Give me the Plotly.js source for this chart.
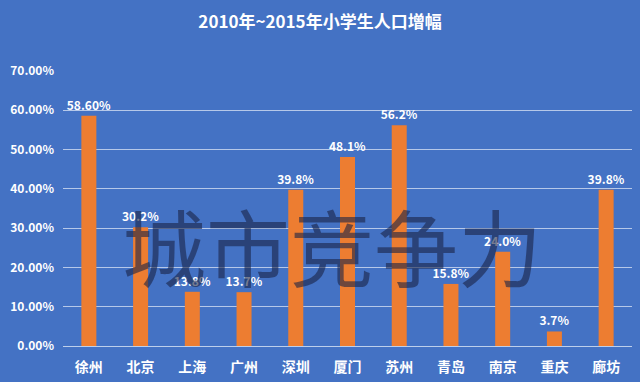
<!DOCTYPE html>
<html>
<head>
<meta charset="utf-8">
<script src="https://cdn.plot.ly/plotly-3.0.1.min.js"></script>
<style>
html,body{margin:0;padding:0;background:#4472C4;}
#chart{width:640px;height:382px;}
</style>
</head>
<body>
<div id="chart"></div>
<script>
const cities = ["徐州","北京","上海","广州","深圳","厦门","苏州","青岛","南京","重庆","廊坊"];
const growth = [0.586,0.302,0.138,0.137,0.398,0.481,0.562,0.158,0.240,0.037,0.398];
const labels = ["58.60%","30.2%","13.8%","13.7%","39.8%","48.1%","56.2%","15.8%","24.0%","3.7%","39.8%"];
const titleText = "2010年~2015年小学生人口增幅";
const watermark = "城市竞争力";

const font = "'Noto Sans CJK SC', 'Open Sans', sans-serif";

const trace = {
  type: "bar",
  x: cities,
  y: growth,
  text: labels,
  textposition: "outside",
  texttemplate: "%{text}",
  constraintext: "none",
  textfont: {color: "#ffffff", size: 12, family: font, weight: "bold"},
  marker: {color: "#ED7D31"},
  cliponaxis: false,
  hoverinfo: "skip"
};

const layout = {
  width: 640, height: 382,
  paper_bgcolor: "#4472C4",
  plot_bgcolor: "#4472C4",
  margin: {l: 63, r: 8, t: 71, b: 36},
  bargap: 0.71,
  showlegend: false,
  title: {
    text: titleText,
    x: 0.5, xanchor: "center",
    y: 0.943, yanchor: "middle",
    font: {color: "#ffffff", size: 17, family: font, weight: "bold"}
  },
  xaxis: {
    type: "category",
    showgrid: false,
    showline: true,
    linecolor: "rgba(220,230,245,0.8)",
    linewidth: 1,
    ticks: "",
    ticklabelstandoff: 8,
    tickfont: {color: "#ffffff", size: 14, family: font, weight: "bold"},
    zeroline: false
  },
  yaxis: {
    range: [0, 0.70],
    tickvals: [0,0.1,0.2,0.3,0.4,0.5,0.6,0.7],
    tickformat: ".2%",
    showgrid: true,
    gridcolor: "rgba(220,230,245,0.75)",
    gridwidth: 1,
    zeroline: false,
    showline: false,
    ticks: "",
    ticklabelstandoff: 8,
    tickfont: {color: "#ffffff", size: 12, family: font, weight: "bold"}
  },
  annotations: [{
    text: watermark,
    xref: "paper", yref: "paper",
    x: 0.473, y: 0.37,
    xanchor: "center", yanchor: "middle",
    showarrow: false,
    font: {size: 84, color: "rgba(25,35,70,0.6)", family: font}
  }]
};

Plotly.newPlot("chart", [trace], layout, {displayModeBar: false, staticPlot: true});
</script>
</body>
</html>
